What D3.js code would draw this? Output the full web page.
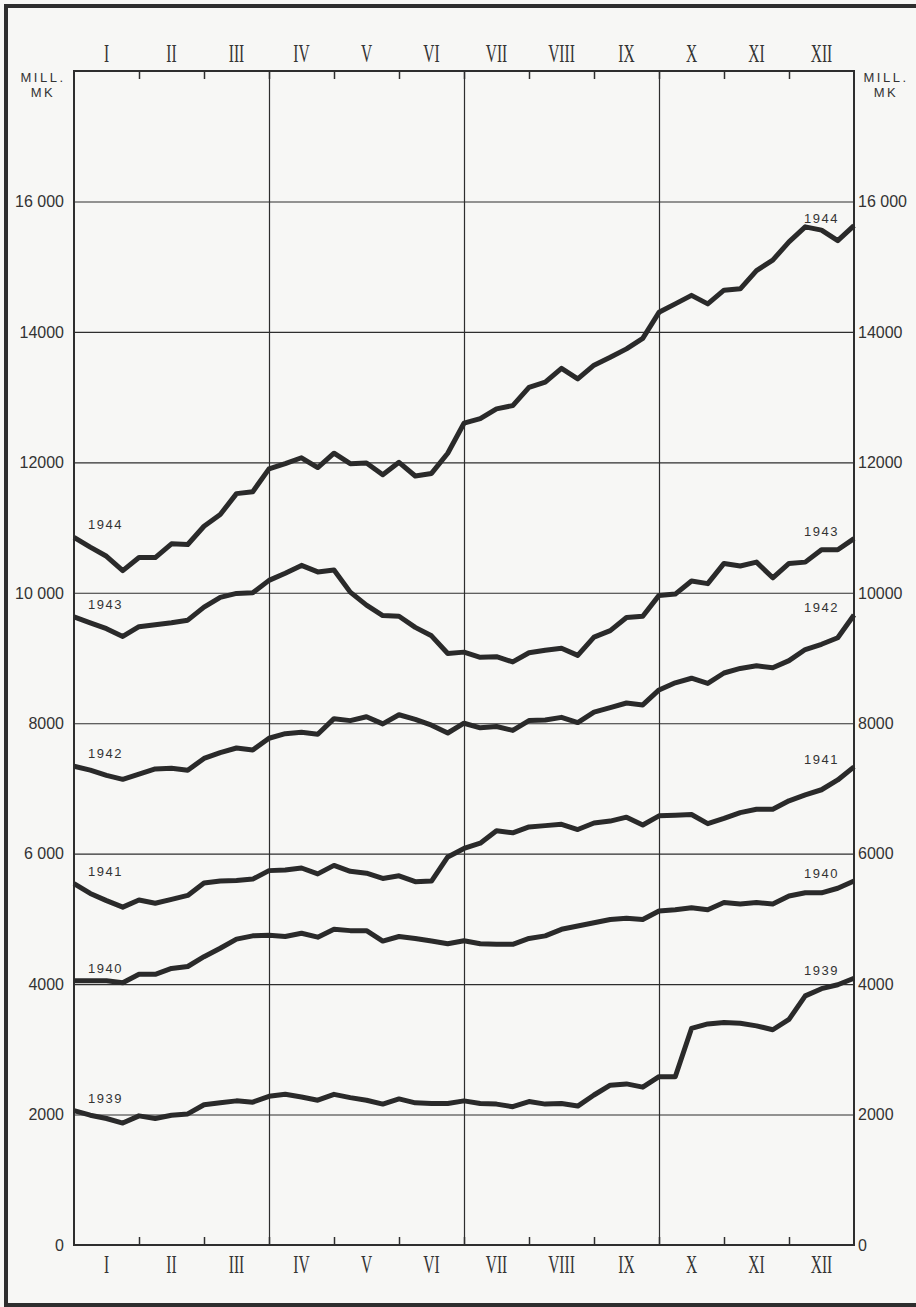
<!DOCTYPE html>
<html>
<head>
<meta charset="utf-8">
<script src="https://cdn.jsdelivr.net/npm/d3@7"></script>
<style>
  body { margin: 0; background: #f7f7f5; }
  svg { display: block; }
</style>
</head>
<body>
<svg></svg>
<script>
// months across the top and bottom
var months = ["I", "II", "III", "IV", "V", "VI", "VII", "VIII", "IX", "X", "XI", "XII"];

// y axis ticks (mill. mk)
var yTicks = [0, 2000, 4000, 6000, 8000, 10000, 12000, 14000, 16000];
var leftTickLabels = ["0", "2000", "4000", "6 000", "8000", "10 000", "12000", "14000", "16 000"];
var rightTickLabels = ["0", "2000", "4000", "6000", "8000", "10000", "12000", "14000", "16 000"];

var years = ["1939", "1940", "1941", "1942", "1943", "1944"];

// 4 readings a month (7th, 15th, 23rd, end of month) + the opening value
var v1939 = [2060, 1990, 1940, 1870, 1980, 1940, 1990, 2010, 2150, 2180,
  2210, 2190, 2280, 2310, 2270, 2220, 2310, 2260, 2220, 2160,
  2240, 2180, 2170, 2170, 2210, 2170, 2160, 2120, 2200, 2160,
  2170, 2130, 2300, 2450, 2470, 2420, 2580, 2580, 3320, 3390,
  3410, 3400, 3360, 3300, 3460, 3820, 3930, 3990, 4090];
var v1940 = [4050, 4050, 4050, 4020, 4150, 4150, 4240, 4270, 4420, 4550,
  4690, 4740, 4750, 4730, 4780, 4720, 4840, 4820, 4820, 4660,
  4730, 4700, 4660, 4620, 4665, 4620, 4610, 4610, 4700, 4740,
  4840, 4890, 4940, 4990, 5010, 4990, 5120, 5140, 5170, 5140,
  5250, 5230, 5250, 5230, 5350, 5400, 5400, 5470, 5580];
var v1941 = [5540, 5390, 5280, 5180, 5290, 5240, 5300, 5360, 5550, 5580,
  5590, 5610, 5740, 5750, 5780, 5690, 5820, 5730, 5700, 5620,
  5660, 5570, 5580, 5950, 6080, 6160, 6350, 6320, 6410, 6430,
  6450, 6370, 6470, 6500, 6560, 6440, 6580, 6590, 6600, 6460,
  6540, 6630, 6680, 6680, 6810, 6900, 6980, 7130, 7330];
var v1942 = [7340, 7280, 7200, 7140, 7220, 7300, 7310, 7280, 7460, 7550,
  7620, 7590, 7770, 7840, 7860, 7830, 8070, 8040, 8100, 7990,
  8130, 8060, 7970, 7850, 8000, 7930, 7950, 7890, 8040, 8050,
  8090, 8010, 8170, 8240, 8310, 8280, 8510, 8620, 8690, 8610,
  8770, 8840, 8880, 8850, 8960, 9130, 9210, 9310, 9660];
var v1943 = [9630, 9540, 9450, 9330, 9480, 9510, 9540, 9580, 9780, 9930,
  9990, 10000, 10190, 10300, 10420, 10320, 10350, 10010, 9810, 9650,
  9640, 9470, 9340, 9070, 9090, 9010, 9020, 8940, 9080, 9120,
  9150, 9040, 9320, 9420, 9620, 9640, 9960, 9980, 10180, 10140,
  10450, 10410, 10470, 10230, 10450, 10470, 10660, 10660, 10830];
var v1944 = [10850, 10700, 10560, 10340, 10540, 10540, 10750, 10740, 11020, 11200,
  11520, 11550, 11900, 11980, 12070, 11920, 12140, 11980, 11990, 11810,
  12000, 11790, 11830, 12140, 12600, 12670, 12820, 12870, 13150, 13230,
  13440, 13280, 13490, 13610, 13740, 13900, 14300, 14430, 14560, 14430,
  14640, 14660, 14940, 15100, 15380, 15610, 15560, 15400, 15630];

var series = [v1939, v1940, v1941, v1942, v1943, v1944];

var width = 916;
var height = 1307;
// plot box (window.top is taken, so prefix these)
var plotLeft = 74, plotRight = 854, plotTop = 71, plotBottom = 1245;
var ink = "#2e2e2e";

var svg = d3.select("svg").attr("width", width).attr("height", height);

var monthScale = d3.scaleLinear().domain([0, 12]).range([plotLeft, plotRight]);
var xScale = d3.scaleLinear().domain([0, 48]).range([plotLeft, plotRight]); // quarter-month steps
var yScale = d3.scaleLinear().domain([0, 18000]).range([plotBottom, plotTop]);

// outer frame (right side runs off the page)
svg.append("path")
  .attr("d", "M930,6H6V1305H930")
  .attr("fill", "none")
  .attr("stroke", ink)
  .attr("stroke-width", 4);

// horizontal grid every 2000
var grid = svg.append("g")
  .attr("transform", `translate(${plotLeft}, 0)`)
  .call(d3.axisLeft(yScale).tickValues(yTicks.slice(1)).tickSize(-(plotRight - plotLeft)).tickFormat(""));
grid.select(".domain").remove();
grid.selectAll("line").attr("stroke", ink).attr("stroke-width", 1.1);

// quarter lines
var qgrid = svg.append("g")
  .attr("transform", `translate(0, ${plotBottom})`)
  .call(d3.axisBottom(monthScale).tickValues([3, 6, 9]).tickSize(-(plotBottom - plotTop)).tickFormat(""));
qgrid.select(".domain").remove();
qgrid.selectAll("line").attr("stroke", ink).attr("stroke-width", 1.2);

// month ticks, pointing inwards
var topTicks = svg.append("g")
  .attr("transform", `translate(0, ${plotTop})`)
  .call(d3.axisTop(monthScale).tickValues(d3.range(1, 12)).tickSize(-8).tickFormat(""));
var bottomTicks = svg.append("g")
  .attr("transform", `translate(0, ${plotBottom})`)
  .call(d3.axisBottom(monthScale).tickValues(d3.range(1, 12)).tickSize(-8).tickFormat(""));
[topTicks, bottomTicks].forEach(function (g) {
  g.select(".domain").remove();
  g.selectAll("line").attr("stroke", ink).attr("stroke-width", 1.5);
});

// plot frame
svg.append("rect")
  .attr("x", plotLeft).attr("y", plotTop)
  .attr("width", plotRight - plotLeft).attr("height", plotBottom - plotTop)
  .attr("fill", "none")
  .attr("stroke", ink)
  .attr("stroke-width", 2);

// y labels both sides
svg.append("g").selectAll("text")
  .data(yTicks)
  .enter()
  .append("text")
  .attr("x", plotLeft - 10)
  .attr("y", (d) => yScale(d))
  .attr("dy", "0.36em")
  .style("text-anchor", "end")
  .style("font-family", "'Liberation Sans', sans-serif")
  .style("font-size", "16px")
  .attr("fill", "#333")
  .text((d, i) => leftTickLabels[i]);

svg.append("g").selectAll("text")
  .data(yTicks)
  .enter()
  .append("text")
  .attr("x", plotRight + 4)
  .attr("y", (d) => yScale(d))
  .attr("dy", "0.36em")
  .style("text-anchor", "start")
  .style("font-family", "'Liberation Sans', sans-serif")
  .style("font-size", "16px")
  .attr("fill", "#333")
  .text((d, i) => rightTickLabels[i]);

// MILL. MK unit on both sides
[43, 886].forEach(function (cx) {
  var t = svg.append("text")
    .attr("x", cx).attr("y", 82)
    .style("text-anchor", "middle")
    .style("font-family", "'Liberation Sans', sans-serif")
    .style("font-size", "13px")
    .style("letter-spacing", "2.5px")
    .attr("fill", "#333");
  t.append("tspan").attr("x", cx).text("MILL.");
  t.append("tspan").attr("x", cx).attr("dy", 15).text("MK");
});

// roman month labels, condensed serif
[62, 1273].forEach(function (baseY) {
  svg.append("g").selectAll("text")
    .data(months)
    .enter()
    .append("text")
    .attr("transform", (d, i) => `translate(${monthScale(i + 0.5)}, ${baseY}) scale(0.62, 1)`)
    .style("text-anchor", "middle")
    .style("font-family", "'Liberation Serif', serif")
    .style("font-size", "25px")
    .attr("fill", "#333")
    .text((d) => d);
});

// the year lines
var line = d3.line()
  .x((d, i) => xScale(i))
  .y((d) => yScale(d));

svg.append("g").selectAll("path")
  .data(series)
  .enter()
  .append("path")
  .attr("d", line)
  .attr("fill", "none")
  .attr("stroke", "#2a2a2a")
  .attr("stroke-width", 5)
  .attr("stroke-linejoin", "round");

// year labels at the start and the end of each line
svg.append("g").selectAll("text")
  .data(series)
  .enter()
  .append("text")
  .attr("x", plotLeft + 14)
  .attr("y", (d) => yScale(d[0]) - 8)
  .style("font-family", "'Liberation Sans', sans-serif")
  .style("font-size", "13px")
  .style("letter-spacing", "1.5px")
  .attr("fill", "#333")
  .text((d, i) => years[i]);

svg.append("g").selectAll("text")
  .data(series)
  .enter()
  .append("text")
  .attr("x", plotRight - 15)
  .attr("y", (d) => yScale(d[d.length - 1]) - 3)
  .style("text-anchor", "end")
  .style("font-family", "'Liberation Sans', sans-serif")
  .style("font-size", "13px")
  .style("letter-spacing", "1.5px")
  .attr("fill", "#333")
  .text((d, i) => years[i]);
</script>
</body>
</html>
